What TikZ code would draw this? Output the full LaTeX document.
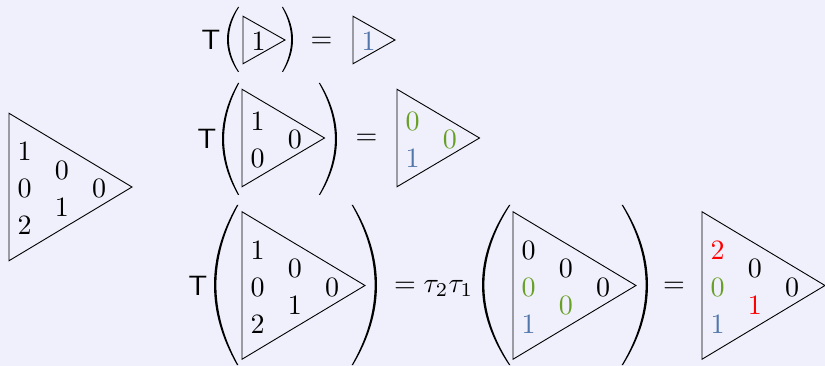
\documentclass[tikz,border=0pt]{standalone}
\definecolor{bgc}{RGB}{240,240,252}
\definecolor{dgreen}{RGB}{104,160,38}
\definecolor{dblue}{RGB}{80,118,170}
\definecolor{dred}{RGB}{255,0,0}
% left parenthesis: xe, yc, half height, bulge, mid thickness, end thickness
\newcommand\lpr[6]{\fill[black] ({#1},{#2-#3}) .. controls ({#1-4/3*#4},{#2-#3/3}) and ({#1-4/3*#4},{#2+#3/3}) .. ({#1},{#2+#3}) -- ({#1+#6},{#2+#3}) .. controls ({#1+#6-4/3*(#4+#6-#5)},{#2+#3/3}) and ({#1+#6-4/3*(#4+#6-#5)},{#2-#3/3}) .. ({#1+#6},{#2-#3}) -- cycle;}
% right parenthesis
\newcommand\rpr[6]{\fill[black] ({#1},{#2-#3}) .. controls ({#1+4/3*#4},{#2-#3/3}) and ({#1+4/3*#4},{#2+#3/3}) .. ({#1},{#2+#3}) -- ({#1-#6},{#2+#3}) .. controls ({#1-#6+4/3*(#4+#6-#5)},{#2+#3/3}) and ({#1-#6+4/3*(#4+#6-#5)},{#2-#3/3}) .. ({#1-#6},{#2-#3}) -- cycle;}
% triangle: x0, ymid, n
\newcommand\tri[3]{\pgfmathsetmacro\trih{(50*#3-2.5)/2}\pgfmathsetmacro\triw{40.5*#3+1.5}\draw[triline] ({#1},{#2-\trih}) -- ({#1+\triw},{#2}) -- ({#1},{#2+\trih}) -- cycle;}
% digits: prefix, x0, ymid, n, list i/j/color/digit
\newcommand\digs[5]{\foreach \ci/\cj/\col/\dig in {#5} {%
  \pgfmathsetmacro\dx{#2+15.5+37.3*\ci}%
  \pgfmathsetmacro\dy{#3+1.5+37*(\cj-(#4-1-\ci)/2)}%
  \node[dg, text=\col] (#1-\ci-\cj) at (\dx,\dy) {\dig};}}
\begin{document}
\begin{tikzpicture}[x=1pt,y=-1pt,
  triline/.style={draw=black, line width=0.9pt},
  dg/.style={inner sep=0pt, scale=2.8, font=\fontsize{10}{12}\selectfont},
  bigT/.style={inner sep=0pt, scale=2.8, font=\sffamily\fontsize{10}{12}\selectfont},
  mth/.style={inner sep=0pt, anchor=base, scale=2.8, font=\fontsize{10}{12}\selectfont}]
\useasboundingbox (0,0) rectangle (825,366);
\fill[bgc] (0,0) rectangle (825,366);

% left triangle
\tri{9}{187}{3}
\digs{L}{9}{187}{3}{0/0/black/1,0/1/black/0,0/2/black/2,1/0/black/0,1/1/black/1,2/0/black/0}

% row 1
\node[bigT] (T1) at (211,39.5) {T};
\lpr{238}{39.5}{32.5}{11}{1.9}{1.1}
\tri{243}{40}{1}
\digs{A}{243}{40}{1}{0/0/black/1}
\rpr{283}{39.5}{32.5}{10}{1.9}{1.1}
\node[mth] (eq1) at (321.5,48) {$=$};
\tri{353}{40}{1}
\digs{B}{353}{40}{1}{0/0/dblue/1}

% row 2
\node[bigT] (T2) at (207,139) {T};
\lpr{238}{139}{56}{16}{2.1}{1.2}
\tri{242}{138}{2}
\digs{C}{242}{138}{2}{0/0/black/1,0/1/black/0,1/0/black/0}
\rpr{320}{139}{56}{17}{2.1}{1.2}
\node[mth] (eq2) at (366.5,145) {$=$};
\tri{397}{138}{2}
\digs{D}{397}{138}{2}{0/0/dgreen/0,0/1/dblue/1,1/0/dgreen/0}

% row 3
\node[bigT] (T3) at (198,286) {T};
\lpr{237}{285}{80}{23}{2.4}{1.3}
\tri{242}{285.5}{3}
\digs{E}{242}{285.5}{3}{0/0/black/1,0/1/black/0,0/2/black/2,1/0/black/0,1/1/black/1,2/0/black/0}
\rpr{353}{285}{80}{24}{2.4}{1.3}
\node[mth] (eq3) at (405,292) {$=$};
\node[mth] (tau) at (448.5,292) {$\tau_2\tau_1$};
\lpr{509}{285}{80}{27}{2.4}{1.3}
\tri{513}{285.5}{3}
\digs{F}{513}{285.5}{3}{0/0/black/0,0/1/dgreen/0,0/2/dblue/1,1/0/black/0,1/1/dgreen/0,2/0/black/0}
\rpr{623}{285}{80}{25}{2.4}{1.3}
\node[mth] (eq4) at (674,292) {$=$};
\tri{702}{285.5}{3}
\digs{G}{702}{285.5}{3}{0/0/dred/2,0/1/dgreen/0,0/2/dblue/1,1/0/black/0,1/1/dred/1,2/0/black/0}
\end{tikzpicture}
\end{document}
